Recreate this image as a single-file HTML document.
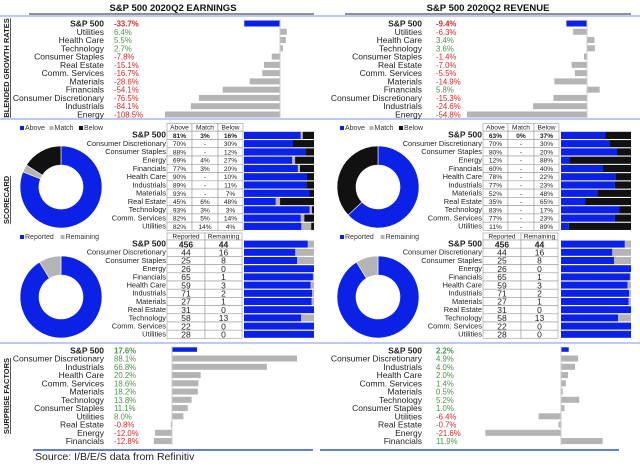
<!DOCTYPE html>
<html><head><meta charset="utf-8"><style>
body{margin:0;background:#fff;width:640px;height:468px;overflow:hidden;font-family:"Liberation Sans",Arial,sans-serif}
svg text{font-family:"Liberation Sans",Arial,sans-serif}
</style></head><body>
<svg id="c" width="640" height="468" xmlns="http://www.w3.org/2000/svg"></svg>
<script>
const growthCatsE=["S&P 500","Utilities","Health Care","Technology","Consumer Staples","Real Estate","Comm. Services","Materials","Financials","Consumer Discretionary","Industrials","Energy"];
const growthValsE=[-33.7,6.4,5.5,2.7,-7.8,-15.1,-16.7,-28.6,-54.1,-76.5,-84.1,-108.5];
const growthCatsR=["S&P 500","Utilities","Health Care","Technology","Consumer Staples","Real Estate","Comm. Services","Materials","Financials","Consumer Discretionary","Industrials","Energy"];
const growthValsR=[-9.4,-6.3,3.4,3.6,-1.4,-7.0,-5.5,-14.9,5.8,-15.3,-24.6,-54.8];
const scoreCats=["S&P 500","Consumer Discretionary","Consumer Staples","Energy","Financials","Health Care","Industrials","Materials","Real Estate","Technology","Comm. Services","Utilities"];
const aboveE=[81,70,88,69,77,90,89,93,45,93,82,82];
const matchE=[3,0,0,4,3,0,0,0,6,3,5,14];
const belowE=[16,30,12,27,20,10,11,7,48,3,14,4];
const aboveR=[63,70,80,12,60,78,77,52,35,83,77,11];
const matchR=[0,0,0,0,0,0,0,0,0,0,0,0];
const belowR=[37,30,20,88,40,22,23,48,65,17,23,89];
const reportedCnt=[456,44,25,26,65,59,71,27,31,58,22,28];
const remainingCnt=[44,16,8,0,1,3,2,1,0,13,0,0];
const surpCatsE=["S&P 500","Consumer Discretionary","Industrials","Health Care","Comm. Services","Materials","Technology","Consumer Staples","Utilities","Real Estate","Energy","Financials"];
const surpValsE=[17.6,88.1,66.8,20.2,18.6,18.2,13.8,11.1,8.0,-0.8,-12.0,-12.8];
const surpValsR=[2.2,4.9,4.0,2.0,1.4,0.5,5.2,1.0,-6.4,-0.7,-21.6,11.9];

const NS="http://www.w3.org/2000/svg";
const svg=document.getElementById('c');
const BLUE="#0b22e6",GRAY="#b4b4b4",GREEN="#3f9a3f",RED="#d42a2a";
function mk(tag,attrs,parent){const e=document.createElementNS(NS,tag);for(const k in attrs)e.setAttribute(k,attrs[k]);(parent||svg).appendChild(e);return e;}
function txt(x,y,s,size,anchor,fill,weight,parent){const t=mk('text',{x:x,y:y,'font-size':size,'text-anchor':anchor||'start',fill:fill||'#222','font-weight':weight||'normal'},parent);t.textContent=s;return t;}
function fmt(v){return v.toFixed(1)+"%";}

[[16,0,640],[119,0,640],[343,0,640]].forEach(function(l){
  const e=mk('line',{x1:l[1],x2:l[2],y1:l[0],y2:l[0],stroke:'#a8b8f0','stroke-width':1.5});
  
});
[[33,313],[320,619]].forEach(function(l){
  const e=mk('line',{x1:l[0],x2:l[1],y1:450,y2:450,stroke:'#3050d0','stroke-width':1.5});
  
});
[["BLENDED GROWTH RATES",68,'blended-growth-label'],["SCORECARD",200,'scorecard-label'],["SURPRISE FACTORS",396,'surprise-factors-label']].forEach(function(s){
  const t=txt(0,0,s[0],7.5,'middle','#222','bold');
  t.setAttribute('transform','translate(9,'+s[1]+') rotate(-90)');
  t.setAttribute('text-decoration','underline');
  
});
const src=txt(35,460,"Source: I/B/E/S data from Refinitiv",10.5,'start','#222');


function panel(o){
  const g=mk('g',{});
  
  const tt=txt(o.titleX,11,o.title,9.5,'middle','#111','bold',g);
  
  mk('line',{x1:o.ulx1,x2:o.ulx2,y1:14,y2:14,stroke:'#222','stroke-width':1},g);
  const gx=v=>o.gZero+v*o.gScale;
  o.gCats.forEach(function(c,i){
    const y=23.5+i*8.27;
    const l=txt(o.labelR,y+3,c,8.5,'end','#222',i==0?'bold':'normal',g);
    
    const v=o.gVals[i];
    const vt=txt(o.valX,y+3,fmt(v),7.8,'start',v<0?RED:GREEN,i==0?'bold':'normal',g);
    
    const r=mk('rect',{x:Math.min(gx(0),gx(v)),y:y-3,width:Math.abs(gx(v)-gx(0)),height:6,fill:i==0?BLUE:GRAY},g);
    
  });
  mk('line',{x1:o.gZero,x2:o.gZero,y1:19,y2:118,stroke:'#ccc','stroke-width':1},g);
  function legend(y,items){let x=o.legX;items.forEach(function(it){
    const s=mk('rect',{x:x,y:y-4,width:4,height:4,fill:it[1]},g);
    
    const t=txt(x+5,y,it[0],7,'start','#333','normal',g);
    
    x+=5+it[0].length*3.7+6;});}
  legend(130,[["Above",BLUE],["Match",GRAY],["Below","#111"]]);
  legend(239,[["Reported",BLUE],["Remaining",GRAY]]);
  function donut(cx,cy,vals,cols,nm){
    const tot=vals.reduce((a,b)=>a+b,0);let a0=-Math.PI/2;
    vals.forEach(function(v,k){if(v<=0)return;
      const a1=a0+v/tot*2*Math.PI,R=41,r=22,lg=(a1-a0)>Math.PI?1:0;
      const d="M"+(cx+R*Math.cos(a0))+" "+(cy+R*Math.sin(a0))+" A"+R+" "+R+" 0 "+lg+" 1 "+(cx+R*Math.cos(a1))+" "+(cy+R*Math.sin(a1))+
        " L"+(cx+r*Math.cos(a1))+" "+(cy+r*Math.sin(a1))+" A"+r+" "+r+" 0 "+lg+" 0 "+(cx+r*Math.cos(a0))+" "+(cy+r*Math.sin(a0))+"Z";
      const p=mk('path',{d:d,fill:cols[k],stroke:'#fff','stroke-width':0.6},g);
      
      a0=a1;});
  }
  donut(o.donutX,187,[o.above[0],o.match[0],o.below[0]],[BLUE,GRAY,"#111"],'beat-miss-donut');
  donut(o.donutX,297,[reportedCnt[0],remainingCnt[0]],[BLUE,GRAY],'reported-donut');
  const tx=o.tableX,cw=[25,26,25];
  function cell(x,y,w,h,s,bold,nm){
    mk('rect',{x:x,y:y,width:w,height:h,fill:'#fff',stroke:'#999','stroke-width':0.6},g);
    const t=txt(x+w/2,y+h-1.6,s,6.6,'middle','#222',bold?'bold':'normal',g);
    
  }
  ["Above","Match","Below"].forEach(function(h,k){let x=tx+cw.slice(0,k).reduce((a,b)=>a+b,0);cell(x,123.5,cw[k],7.6,h,false,'table-header');});
  const bx=o.barX,bw=70;
  scoreCats.forEach(function(c,i){
    const y=131.2+i*8.27;
    const l=txt(tx-1,y+6.5,c,i==0?8.5:7.4,'end','#222',i==0?'bold':'normal',g);
    
    cell(tx,y,cw[0],8.27,o.above[i]+"%",i==0,'above-pct');
    cell(tx+cw[0],y,cw[1],8.27,o.match[i]>0||i==0?o.match[i]+"%":"-",i==0,'match-pct');
    cell(tx+cw[0]+cw[1],y,cw[2],8.27,o.below[i]+"%",i==0,'below-pct');
    const t=o.above[i]+o.match[i]+o.below[i];let x=bx;
    [[o.above[i],BLUE],[o.match[i],GRAY],[o.below[i],"#111"]].forEach(function(s){
      const w=s[0]/t*bw;const r=mk('rect',{x:x,y:y+0.6,width:w,height:7.2,fill:s[1]},g);
      x+=w;});
  });
  const rw=[38,37];
  ["Reported","Remaining"].forEach(function(h,k){cell(tx+(k?rw[0]:0),233,rw[k],7,h,false,'table-header');});
  scoreCats.forEach(function(c,i){
    const y=240+i*8.2;
    const l=txt(tx-1,y+6.5,c,i==0?8.5:7.4,'end','#222',i==0?'bold':'normal',g);
    
    const fs=i==0?'bold':'normal';
    mk('rect',{x:tx,y:y,width:rw[0],height:8.2,fill:'#fff',stroke:'#999','stroke-width':0.6},g);
    mk('rect',{x:tx+rw[0],y:y,width:rw[1],height:8.2,fill:'#fff',stroke:'#999','stroke-width':0.6},g);
    const a=txt(tx+rw[0]/2,y+7.3,String(reportedCnt[i]),8.5,'middle','#222',fs,g);
    
    const b=txt(tx+rw[0]+rw[1]/2,y+7.3,String(remainingCnt[i]),8.5,'middle','#222',fs,g);
    
    const t=reportedCnt[i]+remainingCnt[i];const w1=reportedCnt[i]/t*bw;
    const r1=mk('rect',{x:bx,y:y+0.6,width:w1,height:7,fill:BLUE},g);
    
    const r2=mk('rect',{x:bx+w1,y:y+0.6,width:bw-w1,height:7,fill:GRAY},g);
    
  });
  const sx=v=>o.sZero+v*o.sScale;
  surpCatsE.forEach(function(c,i){
    const y=350.3+i*8.25;
    const l=txt(o.labelR,y+3,c,8.5,'end','#222',i==0?'bold':'normal',g);
    
    const v=o.sVals[i];
    const vt=txt(o.valX,y+3,fmt(v),7.8,'start',v<0?RED:GREEN,i==0?'bold':'normal',g);
    
    const r=mk('rect',{x:Math.min(sx(0),sx(v)),y:y-3,width:Math.max(0.6,Math.abs(sx(v)-sx(0))),height:i==0?4.5:6,fill:i==0?BLUE:GRAY},g);
    
  });
  mk('line',{x1:o.sZero,x2:o.sZero,y1:346,y2:445,stroke:'#ccc','stroke-width':1},g);
}
panel({name:'earnings',title:'S&P 500 2020Q2 EARNINGS',titleX:173,ulx1:29,ulx2:314,gCats:growthCatsE,gVals:growthValsE,gZero:280,gScale:1.06,
  labelR:104,valX:114,legX:20,donutX:61,above:aboveE,match:matchE,below:belowE,tableX:167,barX:244,sZero:172,sScale:1.42,sVals:surpValsE});
panel({name:'revenue',title:'S&P 500 2020Q2 REVENUE',titleX:488,ulx1:345,ulx2:631,gCats:growthCatsR,gVals:growthValsR,gZero:587,gScale:2.19,
  labelR:422,valX:436,legX:340,donutX:378,above:aboveR,match:matchR,below:belowR,tableX:483,barX:561,sZero:561,sScale:3.5,sVals:surpValsR});
</script>
</body></html>
